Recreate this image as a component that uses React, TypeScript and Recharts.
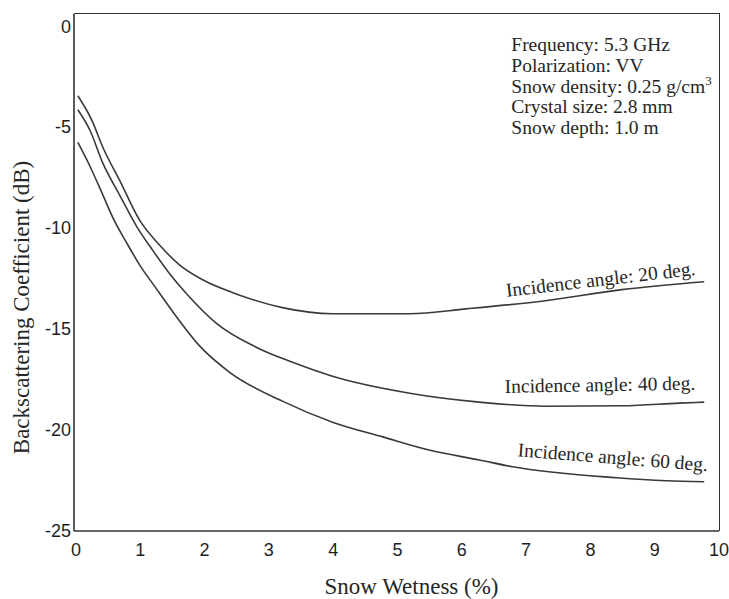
import React from 'react';
import { LineChart, Line, XAxis, YAxis, ReferenceDot } from 'recharts';

// snow wetness (%) / backscatter (dB)
const wetness20 = [0.03, 0.25, 0.42, 0.68, 0.99, 1.3, 1.61, 1.97, 2.44, 2.66, 3.21, 3.99, 5.19, 6.07, 7.3, 8.49, 9.77];
const sigma20 = [-3.45, -4.68, -6.01, -7.64, -9.61, -10.84, -11.82, -12.56, -13.2, -13.45, -13.94, -14.24, -14.24, -14.0, -13.6, -13.05, -12.66];

const wetness40 = [0.03, 0.22, 0.42, 0.68, 0.95, 1.2, 1.46, 1.72, 2.19, 2.81, 3.37, 3.99, 5.19, 6.27, 7.31, 8.5, 9.38, 9.77];
const sigma40 = [-4.14, -5.17, -6.8, -8.37, -9.95, -11.13, -12.27, -13.25, -14.73, -15.91, -16.65, -17.34, -18.18, -18.62, -18.82, -18.8, -18.67, -18.62];

const wetness60 = [0.03, 0.22, 0.42, 0.57, 0.79, 0.99, 1.23, 1.54, 1.93, 2.39, 3.21, 3.99, 4.77, 5.54, 6.27, 6.79, 8.4, 9.18, 9.77];
const sigma60 = [-5.76, -6.95, -8.37, -9.46, -10.74, -11.82, -12.91, -14.29, -15.86, -17.14, -18.57, -19.61, -20.34, -21.03, -21.48, -21.82, -22.36, -22.51, -22.56];

const xTicks = [0, 1, 2, 3, 4, 5, 6, 7, 8, 9, 10];
const yTicks = [-25, -20, -15, -10, -5, 0];
const xDomain = [-0.03, 10];
const yDomain = [-25, 0.6];

const paramLines = ['Frequency: 5.3 GHz', 'Polarization: VV', 'Snow density: 0.25 g/cm', 'Crystal size: 2.8 mm', 'Snow depth: 1.0 m'];

const toPoints = (xs: number[], ys: number[]) => xs.map((x, i) => ({ x, y: ys[i] }));

const W = 729;
const H = 599;
const M = { top: 14, right: 10, bottom: 0, left: 0 };
const Y_AXIS_W = 74;
const X_AXIS_H = 68;

const serif = '"Liberation Serif", "Times New Roman", serif';
const sans = '"Liberation Sans", Arial, sans-serif';
const ink = '#262626';
const frame = '#333';
const frameW = 1.6;

const curveLabel = (text: string, angle: number) => (props: any) => {
  const vb = props.viewBox || {};
  const cx = (vb.x ?? 0) + (vb.width ?? 0) / 2;
  const cy = (vb.y ?? 0) + (vb.height ?? 0) / 2;
  return (
    <text x={cx} y={cy} textAnchor="middle" fontFamily={serif} fontSize={19.5} fill={ink}
      transform={`rotate(${angle}, ${cx}, ${cy})`}>
      {text}
    </text>
  );
};

const paramsLabel = (props: any) => {
  const vb = props.viewBox || {};
  const x = (vb.x ?? 0) + (vb.width ?? 0) / 2;
  const y = (vb.y ?? 0) + (vb.height ?? 0) / 2;
  return (
    <text x={x} y={y} fontFamily={serif} fontSize={19.5} fill={ink}>
      {paramLines.map((t, i) => (
        <tspan key={i} x={x} y={y + i * 20.8}>
          {t}
          {i === 2 && <tspan dy={-8} fontSize={13}>3</tspan>}
        </tspan>
      ))}
    </text>
  );
};

const XTitle = (props: any) => {
  const vb = props.viewBox || { x: 74, y: 531, width: 645 };
  return (
    <text x={vb.x + vb.width / 2 + 15} y={vb.y + 63} textAnchor="middle" fontFamily={serif} fontSize={23} fill={ink}>
      Snow Wetness (%)
    </text>
  );
};

const YTitle = (props: any) => {
  const vb = props.viewBox || { x: 0, y: 14, height: 517 };
  const cx = 29;
  const cy = vb.y + vb.height / 2 + 35;
  return (
    <text x={cx} y={cy} textAnchor="middle" fontFamily={serif} fontSize={23} fill={ink}
      transform={`rotate(-90, ${cx}, ${cy})`}>
      Backscattering Coefficient (dB)
    </text>
  );
};

export default function App() {
  const tickStyle = { fill: '#1e1e1e', fontSize: 18, fontFamily: sans };
  const plotLeft = M.left + Y_AXIS_W;
  const plotW = W - plotLeft - M.right;
  const plotH = H - M.top - M.bottom - X_AXIS_H;
  return (
    <div style={{ position: 'absolute', left: 0, top: 0, width: W, height: H, background: '#fff' }}>
      <LineChart width={W} height={H} margin={M}>
        <XAxis
          dataKey="x"
          type="number"
          domain={xDomain}
          ticks={xTicks}
          height={X_AXIS_H}
          tickLine={false}
          tickSize={0}
          tickMargin={12}
          tick={tickStyle}
          axisLine={{ stroke: frame, strokeWidth: frameW }}
          label={<XTitle />}
        />
        <YAxis
          type="number"
          domain={yDomain}
          ticks={yTicks}
          width={Y_AXIS_W}
          tickLine={false}
          tickSize={0}
          tickMargin={3}
          tick={tickStyle}
          axisLine={{ stroke: frame, strokeWidth: frameW }}
          label={<YTitle />}
        />
        <Line data={toPoints(wetness20, sigma20)} dataKey="y" type="monotone" stroke="#3a3a3a" strokeWidth={1.6} dot={false} isAnimationActive={false} />
        <Line data={toPoints(wetness40, sigma40)} dataKey="y" type="monotone" stroke="#3a3a3a" strokeWidth={1.6} dot={false} isAnimationActive={false} />
        <Line data={toPoints(wetness60, sigma60)} dataKey="y" type="monotone" stroke="#3a3a3a" strokeWidth={1.6} dot={false} isAnimationActive={false} />
        <ReferenceDot x={8.17} y={-12.86} r={0} fill="none" stroke="none" label={curveLabel('Incidence angle: 20 deg.', -6.6)} />
        <ReferenceDot x={8.15} y={-18.08} r={0} fill="none" stroke="none" label={curveLabel('Incidence angle: 40 deg.', -1)} />
        <ReferenceDot x={8.34} y={-21.67} r={0} fill="none" stroke="none" label={curveLabel('Incidence angle: 60 deg.', 4.5)} />
        <ReferenceDot x={6.77} y={-1.23} r={0} fill="none" stroke="none" label={paramsLabel} />
      </LineChart>
      {/* top and right edges of the plot box */}
      <div
        style={{
          position: 'absolute',
          left: plotLeft,
          top: M.top - frameW / 2,
          width: plotW + frameW / 2,
          height: plotH + frameW / 2,
          borderTop: `${frameW}px solid ${frame}`,
          borderRight: `${frameW}px solid ${frame}`,
          boxSizing: 'border-box',
          pointerEvents: 'none',
        }}
      />
    </div>
  );
}
